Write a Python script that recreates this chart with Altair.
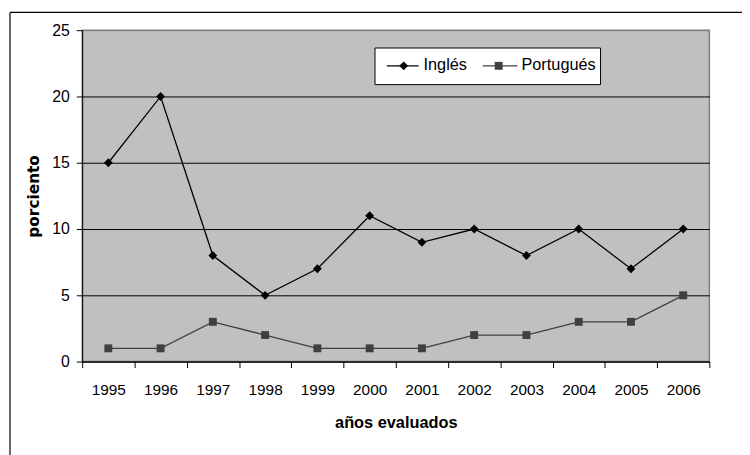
import altair as alt
import pandas as pd

years = ["1995", "1996", "1997", "1998", "1999", "2000", "2001", "2002", "2003", "2004", "2005", "2006"]
ingles = [15, 20, 8, 5, 7, 11, 9, 10, 8, 10, 7, 10]
portugues = [1, 1, 3, 2, 1, 1, 1, 2, 2, 3, 3, 5]
series_names = ["Inglés", "Portugués"]
series_colors = ["#000000", "#404040"]
y_ticks = [0, 5, 10, 15, 20, 25]

df = pd.DataFrame({
    "year": years * 2,
    "value": ingles + portugues,
    "series": [series_names[0]] * len(years) + [series_names[1]] * len(years),
})

FONT = "Liberation Sans"
W, H = 634, 335

x_enc = alt.X(
    "year:O",
    bandPosition=0.5,
    scale=alt.Scale(type="band", paddingInner=0, paddingOuter=0),
    axis=alt.Axis(
        title="años evaluados", labelAngle=0, tickBand="extent",
        domainColor="black", tickColor="black", tickSize=6,
        labelPadding=15, labelFontSize=15.5, labelFont=FONT, labelColor="black",
        titleFont=FONT, titleFontSize=16.5, titleFontWeight="bold", titleColor="black",
        titlePadding=17, grid=False,
    ),
)
y_enc = alt.Y(
    "value:Q",
    scale=alt.Scale(domain=[0, 25], nice=False, zero=True),
    axis=alt.Axis(
        title="porciento", values=y_ticks,
        domainColor="black", tickColor="black", tickSize=6,
        labelPadding=7, labelFontSize=16, labelFont=FONT, labelColor="black",
        titleFont="DejaVu Sans", titleFontSize=15.5, titleFontWeight="bold", titleColor="black",
        titlePadding=10,
        grid=True,
        gridColor={"condition": {"test": "datum.value === 25", "value": "#808080"}, "value": "black"},
        gridOpacity=1, gridWidth=1,
    ),
)
color_enc = alt.Color("series:N", scale=alt.Scale(domain=series_names, range=series_colors), legend=None)

base = alt.Chart(df)
lines = base.mark_line(strokeWidth=1.3).encode(x=x_enc, y=y_enc, color=color_enc)
pts_ing = base.transform_filter(alt.datum.series == series_names[0]).mark_point(
    shape="diamond", filled=True, size=80, opacity=1, color=series_colors[0]
).encode(x=x_enc, y=y_enc)
pts_por = base.transform_filter(alt.datum.series == series_names[1]).mark_point(
    shape="square", filled=True, size=64, opacity=1, color=series_colors[1]
).encode(x=x_enc, y=y_enc)

one = alt.Data(values=[{}])
# legend box
leg_box = alt.Chart(one).mark_rect(fill="white", stroke="black", strokeWidth=1).encode(
    x=alt.value(296), x2=alt.value(524), y=alt.value(18), y2=alt.value(55))
leg_l1 = alt.Chart(one).mark_rule(color=series_colors[0], strokeWidth=1.3).encode(
    x=alt.value(308), x2=alt.value(340), y=alt.value(36))
leg_p1 = alt.Chart(one).mark_point(shape="diamond", filled=True, size=80, opacity=1, color=series_colors[0]).encode(
    x=alt.value(325), y=alt.value(36))
leg_t1 = alt.Chart(one).mark_text(align="left", baseline="middle", fontSize=16.5, font=FONT, color="black").encode(
    x=alt.value(345), y=alt.value(35), text=alt.value(series_names[0]))
leg_l2 = alt.Chart(one).mark_rule(color=series_colors[1], strokeWidth=1.3).encode(
    x=alt.value(405), x2=alt.value(440), y=alt.value(36))
leg_p2 = alt.Chart(one).mark_point(shape="square", filled=True, size=64, opacity=1, color=series_colors[1]).encode(
    x=alt.value(421), y=alt.value(36))
leg_t2 = alt.Chart(one).mark_text(align="left", baseline="middle", fontSize=16.5, font=FONT, color="black").encode(
    x=alt.value(444), y=alt.value(35), text=alt.value(series_names[1]))

# outer frame
frame_top = alt.Chart(one).mark_rule(color="black", strokeWidth=1.2).encode(
    x=alt.value(-73), x2=alt.value(800), y=alt.value(-18))
frame_left = alt.Chart(one).mark_rule(color="black", strokeWidth=1.2).encode(
    x=alt.value(-73), y=alt.value(-18), y2=alt.value(500))

chart = alt.layer(
    lines, pts_ing, pts_por,
    leg_box, leg_l1, leg_p1, leg_t1, leg_l2, leg_p2, leg_t2,
    frame_top, frame_left,
).properties(
    width=W, height=H,
    autosize=alt.AutoSizeParams(type="none"),
    padding={"left": 75, "top": 20, "right": 33, "bottom": 92},
    background="white",
).configure_view(
    fill="#C0C0C0", stroke="#808080", strokeWidth=1.5
)

chart.save("out.html", embed_options={"renderer": "svg", "actions": False})
